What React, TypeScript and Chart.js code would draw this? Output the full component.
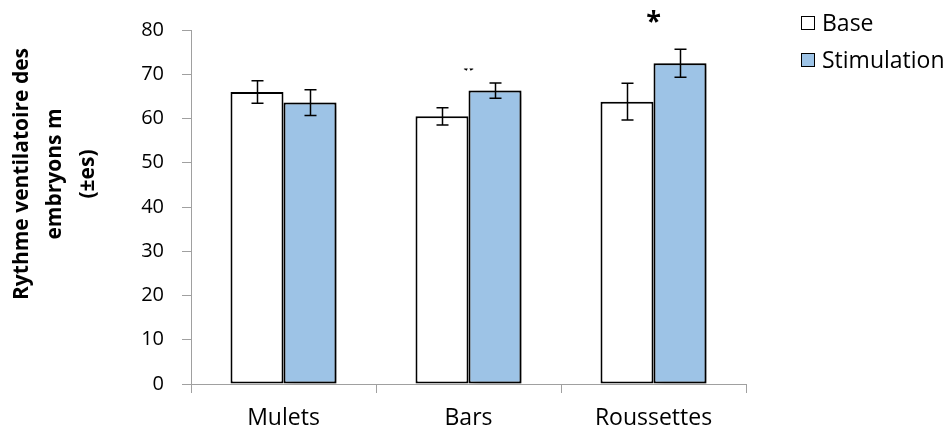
import React, { useEffect, useRef } from 'react';
import { Chart, registerables } from 'chart.js';

Chart.register(...registerables);

const categories = ['Mulets', 'Bars', 'Roussettes'];
const seriesNames = ['Base', 'Stimulation'];
const baseValues = [66.0, 60.5, 63.8];
const stimValues = [63.6, 66.3, 72.5];
const baseErrors = [2.55, 1.95, 4.15];
const stimErrors = [2.9, 1.75, 3.15];
const starValues: (number | null)[] = [null, 72.1, 83.0];
const starPartial = [false, true, false];
const yTitleLines = ['Rythme ventilatoire des', 'embryons m', '(±es)'];
const yMin = 0;
const yMax = 80;
const yStep = 10;

const FONT = '"Open Sans", Lato, sans-serif';
const AXIS_GRAY = '#A0A0A0';
const BLUE = '#9DC3E6';

const errorsBySeries = [baseErrors, stimErrors];
const valuesBySeries = [baseValues, stimValues];

const shadowPlugin = {
  id: 'barShadow',
  beforeDatasetDraw(chart: any, args: any) {
    if (args.index === 1) {
      const ctx = chart.ctx;
      ctx.save();
      ctx.shadowColor = 'rgba(0,0,0,0.4)';
      ctx.shadowBlur = 6;
      ctx.shadowOffsetX = 4;
      ctx.shadowOffsetY = 1;
    }
  },
  afterDatasetDraw(chart: any, args: any) {
    if (args.index === 1) chart.ctx.restore();
  },
};

const errorBarPlugin = {
  id: 'errorBars',
  afterDatasetsDraw(chart: any) {
    const ctx = chart.ctx;
    const y = chart.scales.y;
    ctx.save();
    ctx.strokeStyle = '#000';
    ctx.lineWidth = 1.5;
    for (let d = 0; d < 2; d++) {
      const meta = chart.getDatasetMeta(d);
      meta.data.forEach((bar: any, i: number) => {
        const v = valuesBySeries[d][i];
        const e = errorsBySeries[d][i];
        const x = Math.round(bar.x) + 0.5;
        const yt = y.getPixelForValue(v + e);
        const yb = y.getPixelForValue(v - e);
        const cap = 6;
        ctx.beginPath();
        ctx.moveTo(x, yt);
        ctx.lineTo(x, yb);
        ctx.moveTo(x - cap, yt);
        ctx.lineTo(x + cap, yt);
        ctx.moveTo(x - cap, yb);
        ctx.lineTo(x + cap, yb);
        ctx.stroke();
      });
    }
    ctx.restore();
  },
};

const decorPlugin = {
  id: 'decor',
  afterDraw(chart: any) {
    const ctx = chart.ctx;
    const xs = chart.scales.x;
    const ys = chart.scales.y;

    // significance stars
    ctx.save();
    ctx.fillStyle = '#000';
    ctx.font = `bold 27px ${FONT}`;
    ctx.textAlign = 'center';
    ctx.textBaseline = 'alphabetic';
    starValues.forEach((sv, i) => {
      if (sv == null) return;
      const cx = xs.getPixelForValue(i);
      const cy = ys.getPixelForValue(sv);
      const m = ctx.measureText('*');
      const base = cy + (m.actualBoundingBoxAscent - m.actualBoundingBoxDescent) / 2;
      ctx.save();
      if (starPartial[i]) {
        ctx.beginPath();
        ctx.rect(cx - 20, cy + 3.5, 40, 30);
        ctx.clip();
      }
      ctx.fillText('*', cx, base);
      ctx.restore();
    });
    ctx.restore();

    // legend
    ctx.save();
    const fills = ['#FFFFFF', BLUE];
    const rowsY = [23, 60];
    ctx.font = `23px ${FONT}`;
    ctx.textBaseline = 'middle';
    ctx.textAlign = 'left';
    seriesNames.forEach((name, i) => {
      const by = rowsY[i];
      ctx.fillStyle = fills[i];
      ctx.fillRect(801, by - 7, 14, 14);
      ctx.strokeStyle = '#000';
      ctx.lineWidth = 1;
      ctx.strokeRect(801.5, by - 6.5, 13, 13);
      ctx.fillStyle = '#000';
      ctx.fillText(name, 822, by + 1);
    });
    ctx.restore();

    // y axis title
    ctx.save();
    ctx.fillStyle = '#000';
    ctx.font = `bold 21px ${FONT}`;
    ctx.textAlign = 'center';
    ctx.textBaseline = 'middle';
    const lineXs = [22, 55, 88];
    yTitleLines.forEach((line, i) => {
      ctx.save();
      ctx.translate(lineXs[i], 174);
      ctx.rotate(-Math.PI / 2);
      ctx.fillText(line, 0, 0);
      ctx.restore();
    });
    ctx.restore();
  },
};

export default function App() {
  const ref = useRef<HTMLCanvasElement>(null);
  useEffect(() => {
    if (!ref.current) return;
    const chart = new Chart(ref.current, {
      type: 'bar',
      data: {
        labels: categories,
        datasets: [
          {
            label: seriesNames[0],
            data: baseValues,
            backgroundColor: '#FFFFFF',
            borderColor: '#000',
            borderWidth: 2,
            borderSkipped: false,
            barPercentage: 1,
            categoryPercentage: 0.573,
          },
          {
            label: seriesNames[1],
            data: stimValues,
            backgroundColor: BLUE,
            borderColor: '#000',
            borderWidth: 2,
            borderSkipped: false,
            barPercentage: 1,
            categoryPercentage: 0.573,
          },
        ],
      },
      options: {
        responsive: false,
        animation: false,
        devicePixelRatio: 1,
        layout: { padding: { top: 24, right: 206, bottom: 0, left: 0 } },
        plugins: {
          legend: { display: false },
          tooltip: { enabled: false },
        },
        scales: {
          x: {
            grid: {
              offset: true,
              drawOnChartArea: false,
              drawTicks: true,
              tickLength: 9,
              color: AXIS_GRAY,
            },
            border: { color: AXIS_GRAY, width: 1 },
            ticks: {
              color: '#000',
              font: { family: FONT, size: 23 },
              padding: 12,
            },
            afterFit: (s: any) => {
              s.height = 48;
            },
          },
          y: {
            min: yMin,
            max: yMax,
            ticks: {
              stepSize: yStep,
              color: '#000',
              font: { family: FONT, size: 20 },
              padding: 18,
            },
            grid: {
              drawOnChartArea: false,
              drawTicks: true,
              tickLength: 9,
              color: AXIS_GRAY,
            },
            border: { color: AXIS_GRAY, width: 1 },
            afterFit: (s: any) => {
              s.width = 191;
            },
          },
        },
      } as any,
      plugins: [shadowPlugin, errorBarPlugin, decorPlugin],
    });
    return () => chart.destroy();
  }, []);

  return (
    <div style={{ position: 'absolute', left: 0, top: 0, width: 952, height: 432, background: '#fff' }}>
      <canvas ref={ref} width={952} height={432} style={{ display: 'block' }} />
    </div>
  );
}
